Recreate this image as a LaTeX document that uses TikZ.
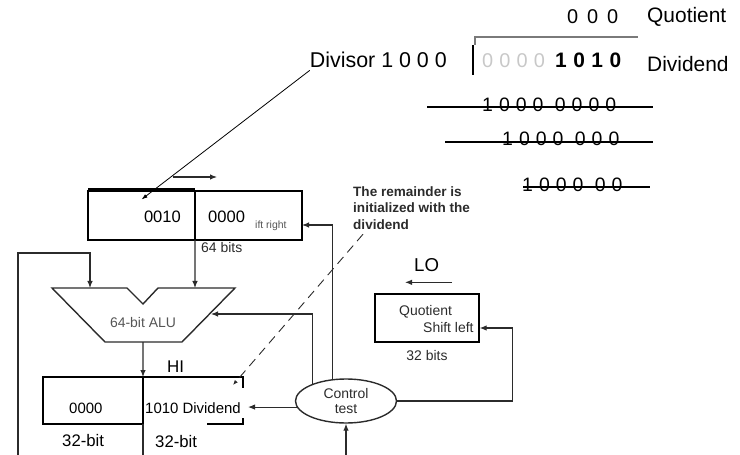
\documentclass[tikz,border=0pt]{standalone}
\usepackage{fontspec}
\setmainfont{Liberation Sans}
\newfontfamily\widedigits[LetterSpace=17]{Liberation Sans}
\newfontfamily\spaceddigits[LetterSpace=31]{Liberation Sans}
\usetikzlibrary{arrows.meta,positioning,chains,shapes.geometric}
\definecolor{wirec}{HTML}{2B2B2B}
\definecolor{lightdigit}{HTML}{C8C8C8}
\definecolor{alutext}{HTML}{555555}
\definecolor{bracketc}{HTML}{7A7A7A}

\begin{document}
\begin{tikzpicture}[x=1bp, y=-1bp,
            node distance=0pt,
            >={Latex[length=7bp,width=5.5bp]},
                cell/.style = {rectangle, draw=black, line width=1.6bp,% register halves
                               minimum height=49bp, outer sep=0pt, on chain},
                wire/.style = {draw=wirec, line width=1.1bp},
                 lbl/.style = {inner sep=0pt, font=\fontsize{14}{16}\selectfont},
               large/.style = {inner sep=0pt, font=\fontsize{21}{21}\selectfont},
              numrow/.style = {inner sep=0pt, anchor=base west,
                               font=\spaceddigits\fontsize{19.5}{19.5}\selectfont},
              strike/.style = {line width=1.5bp},
                hint/.style = {draw=wirec, line width=0.9bp, dash pattern=on 9bp off 6bp},
                ]
\useasboundingbox (0,0) rectangle (740,455);

% long division on the right
\node[large, anchor=base west, font=\widedigits\fontsize{20}{20}\selectfont]
      (q-digits) at (567,24) {0 0 0};
\node[large, anchor=base west] (q-word) at (647,22.5) {Quotient};
\node[large, anchor=base east, font=\fontsize{21.5}{21.5}\selectfont]
      (div) at (447,68) {Divisor 1 0 0 0};
\node[large, anchor=base west, text=lightdigit, font=\spaceddigits\fontsize{20}{20}\selectfont]
      (d-zeros) at (482,68) {0000};
\node[large, anchor=base west, font=\spaceddigits\bfseries\fontsize{21}{21}\selectfont]
      (d-ones) at (555,68) {1010};
\node[large, anchor=base west] (d-word) at (647,72) {Dividend};
\draw[bracketc, line width=2bp] (475,45) -- (475,37) -- (638,37);
\draw[line width=2bp] (473,45) -- (473,75);
\foreach \digits/\x/\y/\ly/\from/\to in {1000 0000/482/112/107/427/653,
                                         1000 000/502/146/142/445/653,
                                         1000 00/522/192/187/523/650}
  {
    \node[numrow] (row\y) at (\x,\y) {\digits};
    \draw[strike] (\from,\ly) -- (\to,\ly);
  }

% divisor register
\begin{scope}[start chain = dvs going right]
  \node[cell, minimum width=107bp] at (141.5,215.5) {};
  \node[cell, minimum width=107bp] {};
\end{scope}
\draw[line width=3bp] ([yshift=1bp]dvs-1.north west) -- ([yshift=1bp]dvs-1.north east);
\node[inner sep=0pt, anchor=base east, font=\fontsize{16.6}{17}\selectfont]
      (dvs-hi) at (181,223) {0010};
\node[inner sep=0pt, anchor=base west, font=\fontsize{16.6}{17}\selectfont]
      (dvs-lo) at (208,223) {0000};
\node[inner sep=0pt, anchor=base west, text=alutext, font=\fontsize{10.5}{11}\selectfont]
      (dvs-shift) at (255,229) {ift right};
\node[lbl, anchor=base west, text=wirec] (dvs-bits) at (201,253) {64 bits};

% ALU
\coordinate (alu-a)   at (90,288);
\coordinate (alu-b)   at (195,288);
\coordinate (alu-out) at (143,342);
\coordinate (alu-s)   at (211,314);
\draw[draw=wirec, line width=1.4bp, line join=miter]
      (52,288) -- (127,288) -- (143,304) -- (158,288) -- (235,288)
      -- (182,342) -- (105,342) -- cycle;
\node[lbl, anchor=base, text=alutext] (alu-name) at (143,328) {64-bit ALU};

% remainder register
\begin{scope}[start chain = rem going right]
  \node[cell, minimum width=100bp, minimum height=47bp] at (93,400.5) {};
  \node[cell, minimum width=100bp, minimum height=47bp, draw=none] {};
\end{scope}
\draw[line width=1.6bp] (rem-2.north west) -- (rem-2.north east)
      -- ([yshift=-11bp]rem-2.north east);
\draw[line width=1.6bp] ([yshift=6bp]rem-2.south east) -- (rem-2.south east)
      -- ([xshift=-36bp]rem-2.south east);
\node[inner sep=0pt, anchor=base west, font=\fontsize{15}{15}\selectfont]
      (rem-hi) at (69,413) {0000};
\node[inner sep=0pt, anchor=base west, font=\fontsize{15}{15}\selectfont]
      (rem-lo) at (145,413) {1010 Dividend};
\node[inner sep=0pt, anchor=base west, font=\fontsize{17}{17}\selectfont]
      (hi) at (167,372) {HI};
\node[inner sep=0pt, anchor=base west, font=\fontsize{16.8}{17}\selectfont]
      (rem-bits1) at (62,446) {32-bit};
\node[inner sep=0pt, anchor=base west, font=\fontsize{16.8}{17}\selectfont]
      (rem-bits2) at (155,447) {32-bit};

% quotient register
\node[rectangle, draw=black, line width=1.3bp, minimum width=104bp, minimum height=48bp]
      (quot) at (427,318) {};
\node[lbl, anchor=base west, text=wirec] (quot-name)  at (399,316) {Quotient};
\node[lbl, anchor=base west, text=wirec] (quot-shift) at (423,333) {Shift left};
\node[lbl, below=8bp of quot, text=wirec] (quot-bits) {32 bits};
\node[inner sep=0pt, anchor=base west, font=\fontsize{18.7}{19}\selectfont]
      (lo) at (414,272) {LO};

% control
\node[ellipse, draw=wirec, line width=1.4bp, minimum width=101bp, minimum height=44bp,
      inner sep=1bp, align=center, font=\fontsize{14}{16}\selectfont, text=wirec]
      (ctrl) at (346,401) {Control\\test};

\node[inner sep=0pt, anchor=north west, align=left,
      font=\bfseries\fontsize{13.6}{17}\selectfont, text=wirec]
      (note) at (353,186) {The remainder is\\initialized with the\\dividend};

\coordinate (loop-in) at (18,455);
\coordinate (ctrl-in) at (346,455);

% connectors
\draw[line width=0.8bp, -{Latex[length=6bp,width=4bp]}]
      ([yshift=-2bp]div.south west) -- ([yshift=16bp]dvs-1.center);
\draw[wire,->] ([xshift=-22bp,yshift=14bp]dvs-1.north east)
      -- ([xshift=22bp,yshift=14bp]dvs-1.north east);
\draw[wire,->] (dvs-1.south east) -- (alu-b);
\draw[wire,->] (loop-in) |- ([yshift=35bp]alu-a) -- (alu-a);
\draw[wire,->] (alu-out) -- (rem-1.north east);
\draw[wire] (rem-1.south east) -- (rem-1.south east |- loop-in);
\draw[wire,->] (ctrl.121) |- ([yshift=-9.5bp]dvs-2.east);
\draw[wire,->] (ctrl.153) |- (alu-s);
\draw[wire,->,shorten >=5bp] (ctrl.187) -- (ctrl.187 -| rem-2.east);
\draw[wire,->] (ctrl.east) -| ([xshift=33bp,yshift=-10bp]quot.east)
      -- ([yshift=-10bp]quot.east);
\draw[wire,->] (ctrl-in) -- (ctrl.south);
\draw[wire,->] ([xshift=25bp,yshift=11bp]quot.north)
      -- ([xshift=-22bp,yshift=11bp]quot.north);
\draw[hint, -{Latex[length=5bp,width=4bp]}] ([xshift=10bp,yshift=-4bp]note.south west)
      -- ([xshift=-10bp,yshift=-8bp]rem-2.north east);
\end{tikzpicture}
\end{document}
